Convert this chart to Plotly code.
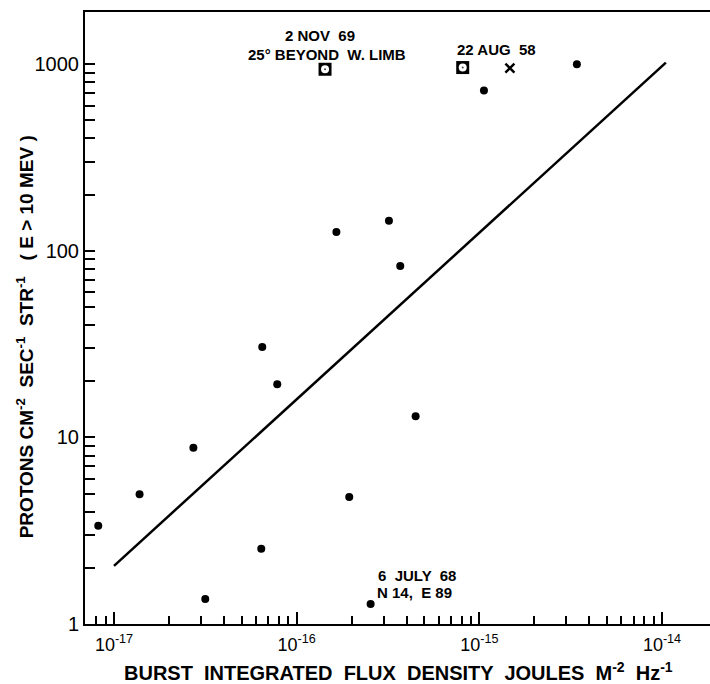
import plotly.graph_objects as go

# Burst integrated flux density (J m^-2 Hz^-1) vs proton flux
flux_x = [8.2e-18, 1.38e-17, 2.72e-17, 3.16e-17, 6.48e-17, 7.83e-17, 6.4e-17,
          1.94e-16, 4.48e-16, 2.54e-16, 1.65e-16, 3.2e-16, 3.69e-16, 1.06e-15, 3.42e-15]
protons_y = [3.36, 4.96, 8.8, 1.36, 30.5, 19.3, 2.53,
             4.79, 13.0, 1.28, 126, 145, 83, 724, 1000]

# Special events (square markers)
event_x = [1.43e-16, 8.11e-16]
event_y = [940, 960]

# "X" point
cross_x = [1.47e-15]
cross_y = [953]

# Regression line
line_x = [1.0e-17, 1.05e-14]
line_y = [2.05, 1020]

# Tick definitions
x_major = [1e-17, 1e-16, 1e-15, 1e-14]
x_major_text = ["10<sup>-17</sup>", "10<sup>-16</sup>", "10<sup>-15</sup>", "10<sup>-14</sup>"]
y_major = [1, 10, 100, 1000]
y_major_text = ["1", "10", "100", "1000"]

x_minor = [7e-18, 8e-18, 9e-18] + [m * 10.0 ** e for e in (-17, -16, -15) for m in range(2, 10)]
y_minor = [m * 10.0 ** e for e in (0, 1, 2) for m in range(2, 10)]

# Text labels
x_title = "BURST  INTEGRATED  FLUX  DENSITY  JOULES  M<sup>-2</sup>  Hz<sup>-1</sup>"
y_title = "PROTONS CM<sup>-2</sup>  SEC<sup>-1</sup>  STR<sup>-1</sup>   ( E > 10 MEV )"
notes = ["2 NOV  69", "25° BEYOND  W. LIMB", "22 AUG  58", "6  JULY  68", "N 14,  E 89"]

FONT = "Liberation Sans"

fig = go.Figure()

fig.add_trace(go.Scatter(x=line_x, y=line_y, mode="lines",
                         line=dict(color="black", width=2.5), showlegend=False))
fig.add_trace(go.Scatter(x=flux_x, y=protons_y, mode="markers",
                         marker=dict(color="black", size=8, symbol="circle"), showlegend=False))
fig.add_trace(go.Scatter(x=event_x, y=event_y, mode="markers",
                         marker=dict(color="black", size=13, symbol="square"), showlegend=False))
fig.add_trace(go.Scatter(x=event_x, y=event_y, mode="markers",
                         marker=dict(color="white", size=8, symbol="circle"), showlegend=False))
fig.add_trace(go.Scatter(x=event_x, y=event_y, mode="markers",
                         marker=dict(color="#444", size=2, symbol="circle"), showlegend=False))
fig.add_trace(go.Scatter(x=cross_x, y=cross_y, mode="markers",
                         marker=dict(color="black", size=9, symbol="x-thin",
                                     line=dict(color="black", width=2.5)), showlegend=False))

ann_font = dict(family=FONT, size=15, color="black", weight="bold")
note_pos = [(0.3752, 0.9624), (0.3864, 0.9306), (0.659, 0.938), (0.531, 0.0792), (0.5264, 0.0507)]
annotations = []
for txt, (px, py) in zip(notes, note_pos):
    annotations.append(dict(x=px, y=py, xref="paper", yref="paper", text=txt,
                            showarrow=False, font=ann_font,
                            xanchor="center", yanchor="middle"))

title_font = dict(family=FONT, size=20, color="black", weight="bold")
annotations.append(dict(x=0.5008, y=-0.0784, xref="paper", yref="paper", text=x_title,
                        showarrow=False, font=title_font, xanchor="center", yanchor="middle"))
annotations.append(dict(x=-0.0955, y=0.4689, xref="paper", yref="paper", text=y_title,
                        showarrow=False, font=dict(family=FONT, size=19, color="black", weight="bold"),
                        textangle=-90, xanchor="center", yanchor="middle"))

fig.update_layout(
    width=710, height=684, autosize=False,
    margin=dict(l=85, r=0, t=12, b=60),
    paper_bgcolor="white", plot_bgcolor="white",
    font=dict(family=FONT, color="black"),
    annotations=annotations,
    xaxis=dict(
        type="log", range=[-17.1588, -13.7372], automargin=False,
        showgrid=False, zeroline=False,
        showline=True, linecolor="black", linewidth=2, mirror=True,
        tickmode="array", tickvals=x_major, ticktext=x_major_text,
        ticks="inside", ticklen=12, tickwidth=2, tickcolor="black",
        tickfont=dict(family=FONT, size=18, color="black"),
        ticklabelstandoff=3,
        minor=dict(tickmode="array", tickvals=x_minor, ticks="inside",
                   ticklen=8, tickwidth=2, tickcolor="black", showgrid=False),
    ),
    yaxis=dict(
        type="log", range=[0, 3.28], automargin=False,
        showgrid=False, zeroline=False,
        showline=True, linecolor="black", linewidth=2, mirror=False,
        tickmode="array", tickvals=y_major, ticktext=y_major_text,
        ticks="inside", ticklen=10, tickwidth=2, tickcolor="black",
        tickfont=dict(family=FONT, size=20, color="black"),
        minor=dict(tickmode="array", tickvals=y_minor, ticks="inside",
                   ticklen=10, tickwidth=2, tickcolor="black", showgrid=False),
    ),
)

fig.write_html(
    "out.html",
    config={"displayModeBar": False},
    post_script="document.body.style.margin='0';document.body.style.overflow='hidden';",
)
